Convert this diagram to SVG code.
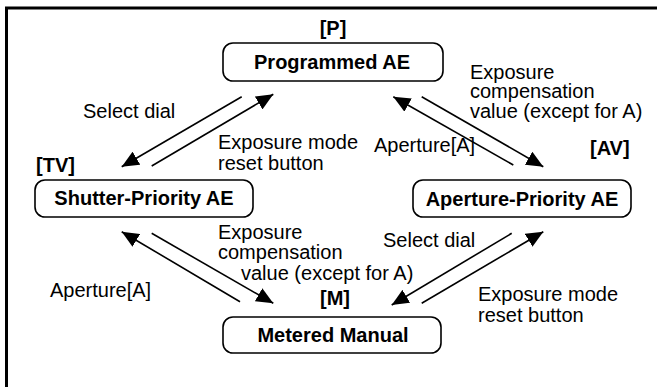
<svg xmlns="http://www.w3.org/2000/svg" width="657" height="387" viewBox="0 0 657 387">
<defs>
<style>
.t{font-family:"Liberation Sans",Arial,sans-serif;font-size:20px;fill:#000}
.b{font-family:"Liberation Sans",Arial,sans-serif;font-size:20px;font-weight:bold;fill:#000}
.box{fill:#fff;stroke:#000;stroke-width:1.6}
.c line{stroke:#000;stroke-width:1.6;marker-end:url(#ah)}
</style>
<marker id="ah" viewBox="0 0 17 15" refX="17" refY="7.5" markerWidth="17" markerHeight="15" markerUnits="userSpaceOnUse" orient="auto">
<path d="M0,0 L17,7.5 L0,15 z" fill="#000"/>
</marker>
</defs>
<rect width="657" height="387" fill="#fff"/>
<g id="frame" stroke="#000" stroke-width="3" fill="none">
<line x1="5" y1="8" x2="657" y2="8"/>
<line x1="6.5" y1="7" x2="6.5" y2="387"/>
</g>
<g id="node-P">
<text class="b" x="333" y="35" text-anchor="middle">[P]</text>
<rect class="box" x="223" y="43" width="220" height="38" rx="10"/>
<text class="b" x="332" y="69" text-anchor="middle">Programmed AE</text>
</g>
<g id="node-TV">
<text class="b" x="36" y="172">[TV]</text>
<rect class="box" x="35" y="180" width="218" height="37" rx="10"/>
<text class="b" x="144" y="205" text-anchor="middle">Shutter-Priority AE</text>
</g>
<g id="node-AV">
<text class="b" x="590" y="155">[AV]</text>
<rect class="box" x="413" y="180" width="218" height="37" rx="10"/>
<text class="b" x="522" y="206" text-anchor="middle">Aperture-Priority AE</text>
</g>
<g id="node-M">
<text class="b" x="320" y="305">[M]</text>
<rect class="box" x="223" y="317" width="218" height="36" rx="10"/>
<text class="b" x="333" y="342" text-anchor="middle">Metered Manual</text>
</g>
<g id="connectors" class="c">
<line x1="241.7" y1="96.7" x2="121.7" y2="166.7"/>
<line x1="151.7" y1="166" x2="273.3" y2="94.3"/>
<line x1="513.3" y1="165" x2="393.3" y2="96.7"/>
<line x1="421.7" y1="96.7" x2="543.3" y2="166.7"/>
<line x1="240" y1="301.7" x2="121.7" y2="231.7"/>
<line x1="151.7" y1="233.3" x2="273.3" y2="303.3"/>
<line x1="511.7" y1="233.3" x2="391.7" y2="305"/>
<line x1="421.7" y1="303.3" x2="543.3" y2="231.7"/>
</g>
<g id="labels">
<text class="t" x="83" y="118">Select dial</text>
<text class="t" x="218" y="149">Exposure mode</text>
<text class="t" x="218" y="170">reset button</text>
<text class="t" x="470" y="78.5">Exposure</text>
<text class="t" x="470" y="98">compensation</text>
<text class="t" x="470" y="117.5">value (except for A)</text>
<text class="t" x="374" y="152">Aperture[A]</text>
<text class="t" x="50" y="297">Aperture[A]</text>
<text class="t" x="218" y="239">Exposure</text>
<text class="t" x="218" y="259">compensation</text>
<text class="t" x="241" y="280">value (except for A)</text>
<text class="t" x="383" y="247">Select dial</text>
<text class="t" x="478" y="301">Exposure mode</text>
<text class="t" x="478" y="322">reset button</text>
</g>
</svg>
